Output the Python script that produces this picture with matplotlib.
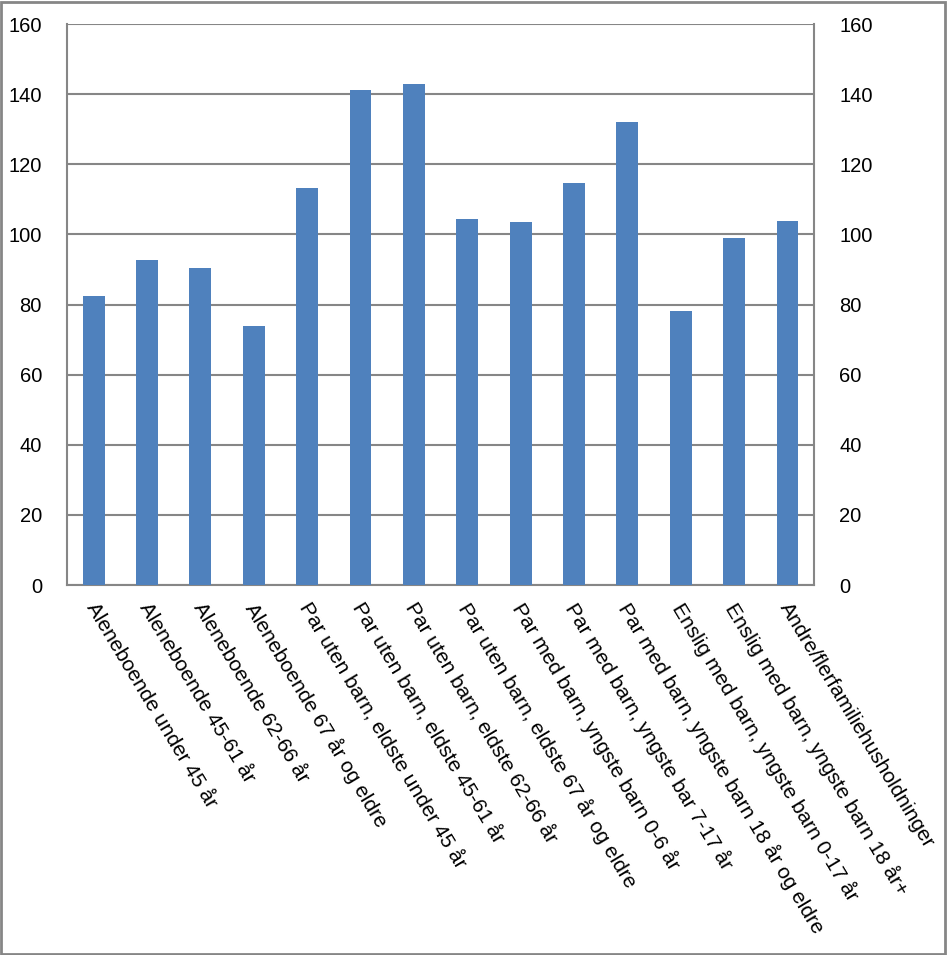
import matplotlib
matplotlib.use("Agg")
import matplotlib.pyplot as plt
from matplotlib.patches import Rectangle
from matplotlib.transforms import ScaledTranslation

categories = [
    "Aleneboende under 45 år",
    "Aleneboende 45-61 år",
    "Aleneboende 62-66 år",
    "Aleneboende 67 år og eldre",
    "Par uten barn, eldste under 45 år",
    "Par uten barn, eldste 45-61 år",
    "Par uten barn, eldste 62-66 år",
    "Par uten barn, eldste 67 år og eldre",
    "Par med barn, yngste barn 0-6 år",
    "Par med barn, yngste bar 7-17 år",
    "Par med barn, yngste barn 18 år og eldre",
    "Enslig med barn, yngste barn 0-17 år",
    "Enslig med barn, yngste barn 18 år+",
    "Andre/flerfamiliehusholdninger",
]
values = [82.4, 92.7, 90.4, 73.9, 113.2, 141.2, 142.9, 104.4, 103.5, 114.7, 132.1, 78.2, 99.0, 103.8]
yticks = [0, 20, 40, 60, 80, 100, 120, 140, 160]

plt.rcParams['font.family'] = ['Liberation Sans', 'DejaVu Sans']

fig = plt.figure(figsize=(9.47, 9.55), dpi=100)
fig.patches.append(Rectangle((0.001, 0.001), 0.997, 0.997, transform=fig.transFigure,
                             fill=False, edgecolor='#868686', linewidth=2))
ax = fig.add_axes([0.0707, 0.3874, 0.789, 0.5874])

x = list(range(len(categories)))
ax.bar(x, values, width=0.41, color='#4F81BD', zorder=3)
ax.set_xlim(-0.5, len(categories) - 0.5)
ax.set_ylim(0, 160)
ax.set_yticks(yticks)
ax.yaxis.grid(True, color='#868686', linewidth=1.5, zorder=0)
ax.set_axisbelow(True)
for s in ['left', 'right', 'bottom']:
    ax.spines[s].set_color('#868686')
    ax.spines[s].set_linewidth(1.5)
ax.spines['top'].set_visible(False)

ax.tick_params(axis='y', length=0, pad=18, labelsize=14.5, labelright=True, labelleft=True)
ax.tick_params(axis='x', length=0, pad=10)
ax.set_xticks(x)
ax.set_xticklabels(categories, rotation=-59, ha='left', va='top', rotation_mode='anchor', fontsize=15)
offset = ScaledTranslation(5 / 100, 0, fig.dpi_scale_trans)
for lbl in ax.get_xticklabels():
    lbl.set_transform(lbl.get_transform() + offset)

fig.savefig("out.png", dpi=100)
